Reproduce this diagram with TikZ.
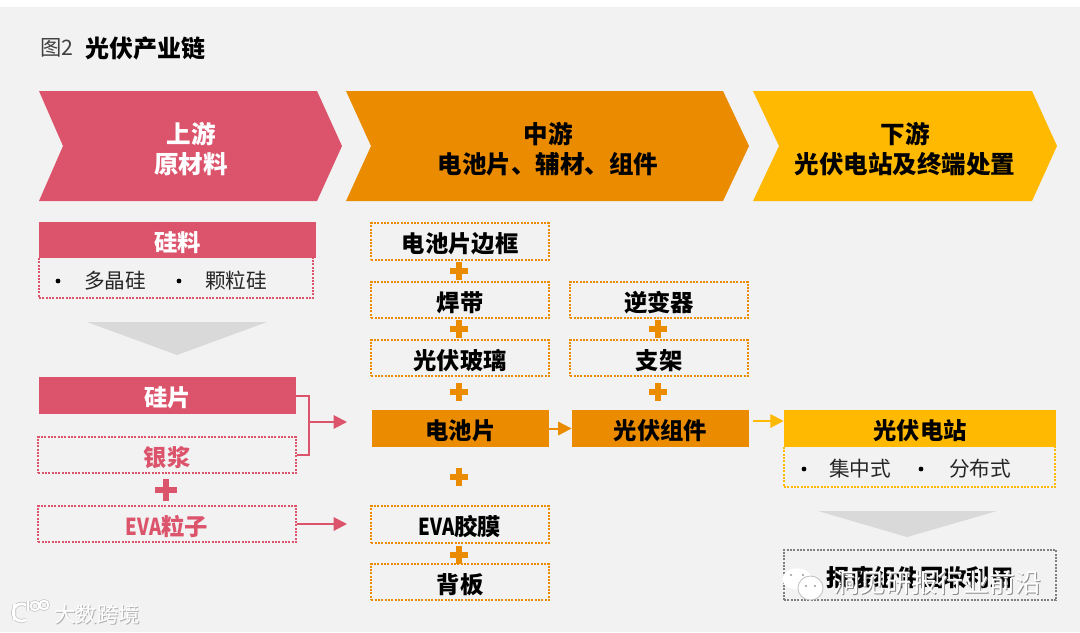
\documentclass[tikz,border=0pt]{standalone}
\usepackage{fontspec}
\usepackage{graphicx}
\setmainfont{Noto Sans CJK SC}
\definecolor{RoseRed}{RGB}{219,84,108}
\definecolor{DeepOrange}{RGB}{234,139,0}
\definecolor{SunYellow}{RGB}{255,185,0}
\definecolor{PaleGray}{RGB}{242,242,242}
\definecolor{WedgeGray}{RGB}{217,217,217}
\definecolor{DotGray}{RGB}{127,127,127}
\usetikzlibrary{arrows.meta, shapes.misc, positioning, calc}

\begin{document}
\begin{tikzpicture}[
  x=0.75pt, y=-0.75pt,
  chevtext/.style={
    text=white,
    align=center,
    font=\fontsize{18.4}{22.5}\selectfont\bfseries
  },
  tag/.style={
    minimum height=27.5pt,
    inner sep=0pt,
    text height=17.1pt,
    text depth=0pt,
    align=center,
    font=\fontsize{17.5}{20}\selectfont\bfseries
  },
  solidtag/.style={tag, fill=#1},
  dottag/.style={tag, draw=#1, dash pattern=on 1.5pt off 1pt, line width=1.6pt},
  item/.style={inner sep=0pt, font=\fontsize{15.5}{18}\selectfont, text=black!85},
  dotmark/.style={circle, fill=black, inner sep=0pt, minimum size=3.6pt},
  plusmark/.style={cross out, rotate=45, draw=#1, line width=3.8pt, minimum size=9.5pt, inner sep=0pt, outer sep=0pt},
  arrow/.style={-{Triangle[length=10pt, width=10pt]}, #1, line width=1.5pt},
  wmark/.style={white, font=\fontsize{16}{18}\selectfont}
]

\useasboundingbox (0,0) rectangle (1080,632);
\fill[white] (0,0) rectangle (1080,632);
\fill[PaleGray] (0,7) rectangle (1080,632);

\node[anchor=west, inner sep=0pt, font=\fontsize{16}{20}\selectfont, text=black!75] (fig) at (40,48) {图2};
\node[anchor=west, inner sep=0pt, font=\fontsize{18}{20}\selectfont\bfseries, right=9pt of fig] (title) {光伏产业链};

% three chevrons
\fill[RoseRed] (39,91) -- (317,91) -- (342,146) -- (317,201) -- (39,201) -- (63,146) -- cycle;
\fill[DeepOrange] (346,91) -- (723,91) -- (749,146) -- (723,201) -- (346,201) -- (371,146) -- cycle;
\fill[SunYellow] (753,91) -- (1032,91) -- (1057,146) -- (1032,201) -- (753,201) -- (779,146) -- cycle;

\node[chevtext] (up) at (191,149) {上游\\原材料};
\node[chevtext, text=black] (mid) at (548,149) {中游\\电池片、辅材、组件};
\node[chevtext, text=black] (down) at (905,149) {下游\\光伏电站及终端处置};

% upstream
\draw[RoseRed, dash pattern=on 1.5pt off 1pt, line width=1.6pt] (39,258) |- (313,298) -- (313,258);
\node[solidtag=RoseRed, text=white, minimum width=208pt] (silicon) at (177.5,240) {硅料};
\node[dotmark] (b1) at (58,281) {};
\node[item] (poly) at (115,281) {多晶硅};
\node[dotmark] (b2) at (179,281) {};
\node[item] (granule) at (236,281) {颗粒硅};
\fill[WedgeGray] (87,322) -- (267,322) -- (177,355) -- cycle;

\node[solidtag=RoseRed, text=white, minimum width=193pt] (wafer) at (167.5,395.5) {硅片};
\node[dottag=RoseRed, text=RoseRed, minimum width=193pt] (paste) at (167,455) {银浆};
\node[plusmark=RoseRed, line width=5pt, minimum size=11.2pt] (plusa) at (166,490) {};
\node[dottag=RoseRed, text=RoseRed, minimum width=193pt] (evap) at (167,524) {\scalebox{.8}[1]{EVA}粒子};

\coordinate (merge) at (309,422);
\coordinate (cellin) at (347,422);
\coordinate (filmin) at (347,524);
\draw[RoseRed, line width=1.5pt] (wafer.east) -| (merge) |- (paste.east);
\draw[arrow=RoseRed] (merge) -- (cellin);
\draw[arrow=RoseRed] (evap.east) -- (filmin);

% midstream
\node[dottag=DeepOrange, minimum width=133pt] (frame) at (460,241.5) {电池片边框};
\node[plusmark=DeepOrange] (plusb) at (459,271) {};
\node[dottag=DeepOrange, minimum width=133pt] (ribbon) at (460,300) {焊带};
\node[plusmark=DeepOrange] (plusc) at (459,329) {};
\node[dottag=DeepOrange, minimum width=133pt] (glass) at (460,358) {光伏玻璃};
\node[plusmark=DeepOrange] (plusd) at (459,392) {};
\node[solidtag=DeepOrange, minimum width=133pt] (cell) at (460.5,428.5) {电池片};
\node[plusmark=DeepOrange] (pluse) at (459,477) {};
\node[dottag=DeepOrange, minimum width=133pt] (film) at (460,524.5) {\scalebox{.8}[1]{EVA}胶膜};
\node[plusmark=DeepOrange] (plusf) at (459,555) {};
\node[dottag=DeepOrange, minimum width=133pt] (back) at (460,582) {背板};

\node[dottag=DeepOrange, minimum width=133pt] (inverter) at (659,300) {逆变器};
\node[plusmark=DeepOrange] (plusg) at (658,329) {};
\node[dottag=DeepOrange, minimum width=133pt] (bracket) at (659,358) {支架};
\node[plusmark=DeepOrange] (plush) at (658,392) {};
\node[solidtag=DeepOrange, minimum width=133pt] (module) at (660.5,428.5) {光伏组件};

\draw[arrow=DeepOrange] (cell.east) -- (module.west);

% downstream
\draw[SunYellow, dash pattern=on 1.5pt off 1pt, line width=1.6pt] (784,447) |- (1055,487) -- (1055,447);
\node[solidtag=SunYellow, minimum width=204pt] (plant) at (920,428.5) {光伏电站};
\node[dotmark] (b3) at (804,469) {};
\node[item] (central) at (860,469) {集中式};
\node[dotmark] (b4) at (921,469) {};
\node[item] (dist) at (980,469) {分布式};

\coordinate (moduleout) at (753,421);
\draw[arrow=SunYellow] (moduleout) -- (plant.west |- moduleout);

\fill[WedgeGray] (818,511) -- (997,511) -- (907,537) -- cycle;
\node[dottag=DotGray, minimum width=204pt, minimum height=38pt] (recycle) at (920,575) {报废组件回收利用};

% watermarks
\node[wmark, text=black!30, xshift=.8pt, yshift=-.8pt] (shadeb) at (97,614) {大数跨境};
\node[wmark] (markb) at (97,614) {大数跨境};
\draw[black!25, line width=3pt] (14,604) -- (14,620) (26,605) arc (60:300:6.5pt);
\draw[black!25, line width=2.4pt] (28,601) -- (28,611) (35,606) circle (3.2pt) (44,605) circle (3.2pt);
\draw[white, line width=2pt] (14,604) -- (14,620) (26,605) arc (60:300:6.5pt);
\draw[white, line width=1.5pt] (28,601) -- (28,611) (35,606) circle (3.2pt) (44,605) circle (3.2pt);
\node[wmark, text=black!45, xshift=.8pt, yshift=-.8pt, font=\fontsize{19.5}{20}\selectfont] (shadea) at (937,583) {洞见研报行业前沿};
\node[wmark, font=\fontsize{19.5}{20}\selectfont] (marka) at (937,583) {洞见研报行业前沿};
\fill[white] (797,579) ellipse (11pt and 8pt);
\filldraw[fill=white, draw=black!25, line width=.6pt] (810.5,588) ellipse (9.4pt and 9pt);
\fill[black!40] (791,575) circle (.9pt) (803,575) circle (.9pt) (806,586) circle (.9pt) (815,586) circle (.9pt);

\end{tikzpicture}
\end{document}
